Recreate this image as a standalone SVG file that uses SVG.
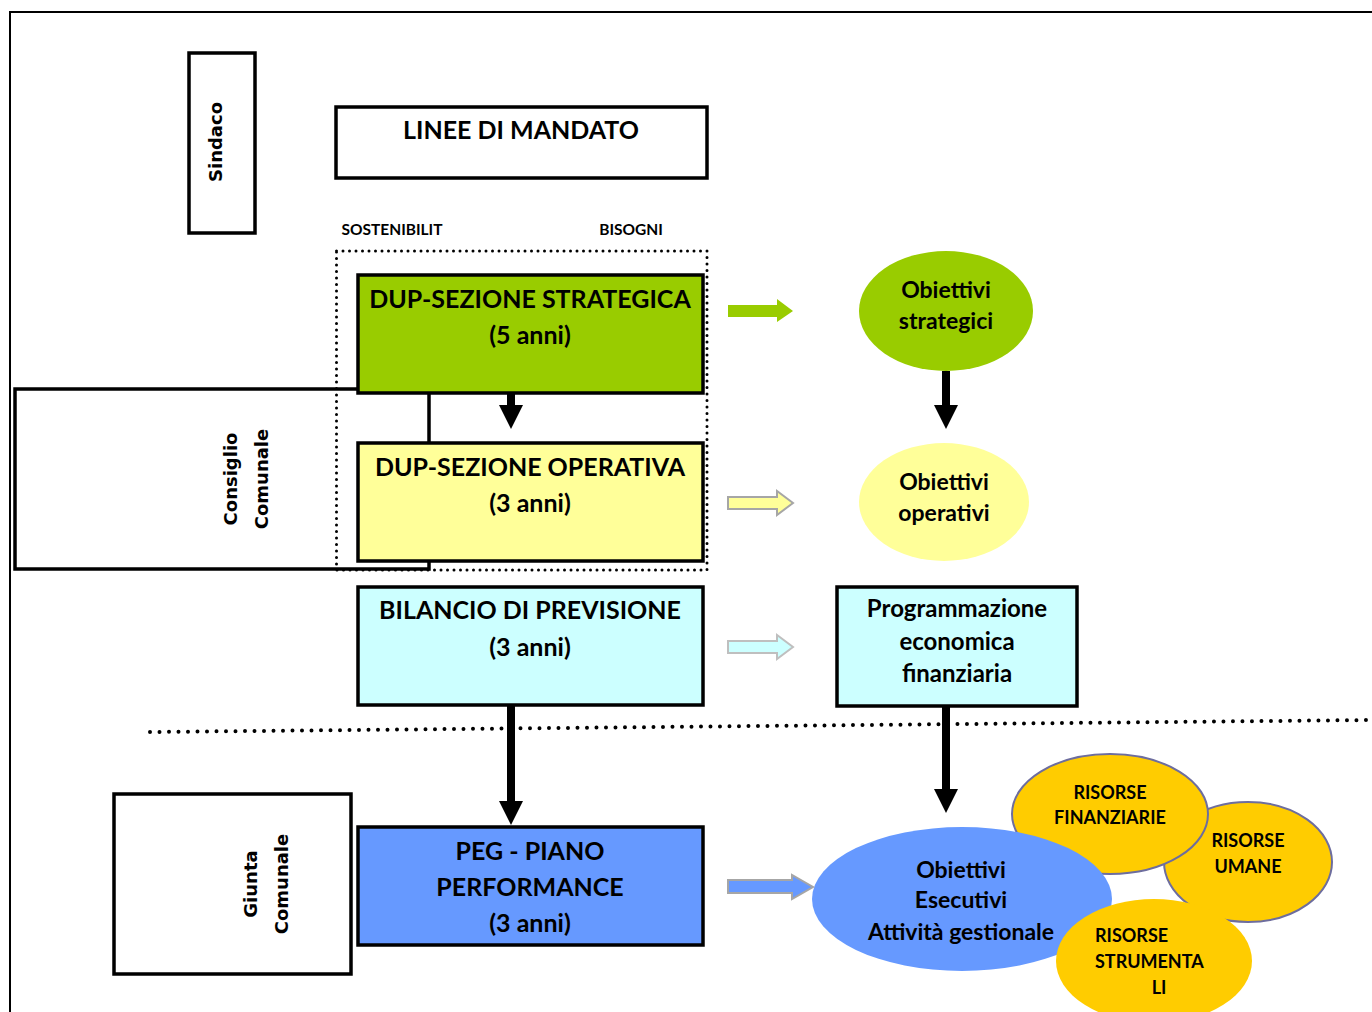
<svg xmlns="http://www.w3.org/2000/svg" width="1372" height="1012" viewBox="0 0 1372 1012">
<defs>
<style>
.box{stroke:#000;stroke-width:3.5}
.t{font-family:Lato,"Open Sans","Liberation Sans",sans-serif;font-weight:bold;fill:#000;text-anchor:middle}
.big{font-size:25px}
.mid{font-size:23px}
.prg{font-size:24px}
.sml{font-size:18px}
.lab{font-size:15.5px}
.rot{font-family:"DejaVu Sans","Liberation Sans",sans-serif;font-weight:bold;font-size:18px;text-anchor:middle;fill:#000}
.conn{stroke:#000;stroke-width:8;fill:none}
.dot{fill:none;stroke:#000;stroke-linecap:round}
</style>
<marker id="ah" markerUnits="userSpaceOnUse" markerWidth="24" markerHeight="24" viewBox="0 0 24 24" refX="2" refY="12" orient="auto">
<path d="M0,0 L24,12 L0,24 z" fill="#000"/>
</marker>
</defs>
<rect width="1372" height="1012" fill="#fff"/>
<path d="M10,1012 V12 H1372" fill="none" stroke="#000" stroke-width="2"/>

<g id="sindaco">
<rect x="189" y="53" width="66" height="180" fill="#fff" class="box"/>
<text class="rot" transform="translate(222,142) rotate(-90)">Sindaco</text>
</g>

<g id="consiglio">
<rect x="15" y="389" width="414" height="180" fill="#fff" class="box"/>
<text class="rot" transform="translate(237,479) rotate(-90)">Consiglio</text>
<text class="rot" transform="translate(268,479) rotate(-90)">Comunale</text>
</g>

<g id="giunta">
<rect x="114" y="794" width="237" height="180" fill="#fff" class="box"/>
<text class="rot" transform="translate(257,884) rotate(-90)">Giunta</text>
<text class="rot" transform="translate(288,884) rotate(-90)">Comunale</text>
</g>

<g id="linee">
<rect x="336" y="107" width="371" height="71" fill="#fff" class="box"/>
<text class="t big" x="521" y="139">LINEE DI MANDATO</text>
</g>

<g id="labels">
<text class="t lab" x="392" y="235">SOSTENIBILIT</text>
<text class="t lab" x="631" y="235">BISOGNI</text>
</g>

<g id="dup-strategica">
<rect x="358" y="275" width="345" height="118" fill="#99CC00" class="box"/>
<text class="t big" x="530" y="308">DUP-SEZIONE STRATEGICA</text>
<text class="t big" x="530" y="344">(5 anni)</text>
</g>

<g id="dup-operativa">
<rect x="358" y="443" width="345" height="118" fill="#FFFF99" class="box"/>
<text class="t big" x="530" y="476">DUP-SEZIONE OPERATIVA</text>
<text class="t big" x="530" y="512">(3 anni)</text>
</g>

<g id="dup-frame">
<rect x="336.5" y="251" width="370.5" height="319" class="dot" stroke-width="3" stroke-dasharray="0 6.5"/>
</g>

<g id="bilancio">
<rect x="358" y="587" width="345" height="118" fill="#CCFFFF" class="box"/>
<text class="t big" x="530" y="619">BILANCIO DI PREVISIONE</text>
<text class="t big" x="530" y="656">(3 anni)</text>
</g>

<g id="peg">
<rect x="358" y="827" width="345" height="118" fill="#6699FF" class="box"/>
<text class="t big" x="530" y="860">PEG - PIANO</text>
<text class="t big" x="530" y="896">PERFORMANCE</text>
<text class="t big" x="530" y="932">(3 anni)</text>
</g>

<g id="obiettivi-strategici">
<ellipse cx="946" cy="311" rx="87" ry="60" fill="#99CC00"/>
<text class="t mid" x="946" y="298">Obiettivi</text>
<text class="t mid" x="946" y="329">strategici</text>
</g>

<g id="obiettivi-operativi">
<ellipse cx="944" cy="502" rx="85" ry="59" fill="#FFFF99"/>
<text class="t mid" x="944" y="490">Obiettivi</text>
<text class="t mid" x="944" y="521">operativi</text>
</g>

<g id="programmazione">
<rect x="837" y="587" width="240" height="119" fill="#CCFFFF" class="box"/>
<text class="t prg" x="957" y="617">Programmazione</text>
<text class="t prg" x="957" y="650">economica</text>
<text class="t prg" x="957" y="682">finanziaria</text>
</g>

<g id="separator">
<line x1="150" y1="732" x2="1372" y2="720" class="dot" stroke-width="4" stroke-dasharray="0 9.5"/>
</g>

<g id="risorse-umane">
<ellipse cx="1248" cy="862" rx="84" ry="60" fill="#FFCC00" stroke="#6D6D9E" stroke-width="2"/>
</g>
<g id="risorse-finanziarie">
<ellipse cx="1110" cy="814" rx="98" ry="60" fill="#FFCC00" stroke="#6D6D9E" stroke-width="2"/>
</g>
<g id="obiettivi-esecutivi">
<ellipse cx="962" cy="899" rx="150" ry="72" fill="#6699FF"/>
</g>
<g id="risorse-strumentali">
<ellipse cx="1154" cy="961" rx="98" ry="62" fill="#FFCC00"/>
</g>
<g id="ellipse-texts">
<text class="t mid" x="961" y="878">Obiettivi</text>
<text class="t mid" x="961" y="908">Esecutivi</text>
<text class="t mid" x="961" y="940">Attività gestionale</text>
<text class="t sml" x="1110" y="799">RISORSE</text>
<text class="t sml" x="1110" y="824">FINANZIARIE</text>
<text class="t sml" x="1248" y="847">RISORSE</text>
<text class="t sml" x="1248" y="873">UMANE</text>
<text class="t sml" x="1095" y="942" style="text-anchor:start">RISORSE</text>
<text class="t sml" x="1095" y="968" style="text-anchor:start">STRUMENTA</text>
<text class="t sml" x="1159" y="994">LI</text>
</g>

<g id="connectors">
<line x1="511" y1="393" x2="511" y2="407" class="conn" marker-end="url(#ah)"/>
<line x1="946" y1="371" x2="946" y2="407" class="conn" marker-end="url(#ah)"/>
<line x1="511" y1="705" x2="511" y2="803" class="conn" marker-end="url(#ah)"/>
<line x1="946" y1="706" x2="946" y2="791" class="conn" marker-end="url(#ah)"/>
<path d="M728,305 H777 V299 L793,311 L777,322 V317 H728 Z" fill="#99CC00"/>
<path d="M728,497 H777 V491 L793,503 L777,515 V509 H728 Z" fill="#FFFF99" stroke="#A6A6A6" stroke-width="2"/>
<path d="M728,641 H777 V635 L793,647 L777,659 V653 H728 Z" fill="#CCFFFF" stroke="#BFBFBF" stroke-width="2"/>
<path d="M728,880 H792 V875 L813,887 L792,899 V893 H728 Z" fill="#6699FF" stroke="#A6A6A6" stroke-width="2"/>
</g>
</svg>
